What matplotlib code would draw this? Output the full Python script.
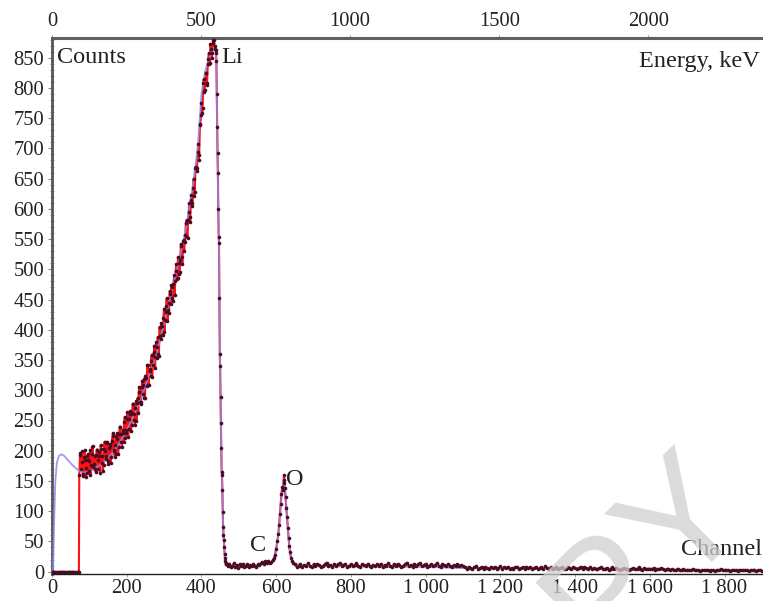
import matplotlib
matplotlib.use('Agg')
import matplotlib.pyplot as plt
import numpy as np

# measured spectrum, split into pieces with their own channel steps
zero_start, zero_step = 0, 3
zero_counts = [0] * 25

# rising Li edge, two interleaved runs of channels (73, 76, ... and 75, 78, ...)
rise_start, rise_step = 73, 3
rise_counts = [
    160, 196, 182, 158, 189, 201, 172, 164, 195, 183,
    160, 194, 208, 178, 170, 193, 202, 169, 191, 209,
    180, 167, 203, 199, 191, 215, 183, 208, 180, 216,
    229, 200, 210, 195, 229, 206, 240, 227, 206, 235,
    248, 221, 235, 264, 236, 260, 232, 262, 278, 250,
    270, 249, 287, 297, 281, 278, 315, 308, 287, 324,
    307, 342, 309, 335, 348, 322, 358, 374, 355, 354,
    388, 356, 390, 411, 391, 420, 396, 429, 452, 432,
    427, 459, 474, 452, 475, 457, 498, 484, 520, 492,
    515, 538, 508, 548, 545, 576, 554, 581, 609, 578,
    614, 609, 650, 628, 670, 667, 707, 689, 739, 775,
    767, 814, 796, 825, 808, 848, 840, 873, 849, 875,
    880, 864, 858,
]
rise2_start, rise2_step = 75, 3
rise2_counts = [
    193, 169, 199, 162, 185, 157, 192, 184, 167, 201,
    176, 207, 173, 192, 165, 202, 184, 198, 164, 203,
    192, 177, 215, 186, 213, 178, 204, 211, 190, 224,
    202, 190, 225, 220, 194, 227, 239, 214, 229, 214,
    256, 230, 252, 223, 253, 266, 242, 278, 261, 243,
    282, 279, 263, 305, 280, 306, 293, 319, 288, 321,
    342, 309, 332, 324, 359, 341, 363, 336, 379, 372,
    360, 405, 384, 406, 391, 435, 417, 439, 415, 445,
    464, 442, 470, 447, 490, 481, 508, 486, 510, 495,
    542, 520, 547, 531, 556, 581, 552, 595, 587, 623,
    605, 634, 622, 668, 663, 694, 681, 741, 755, 759,
    808, 794, 824, 804, 840, 858, 841, 864, 858, 880,
    869, 862,
]

edge_start, edge_step = 440, 1
edge_counts = [
    845, 790, 735, 692, 659, 600, 553, 543, 452, 360,
    340, 289, 246, 204, 165, 160, 135, 99, 74, 61,
    53, 41, 30, 22, 17, 14, 12,
]

base_start, base_step = 467, 4
base_counts = [
    12, 9, 13, 7, 10, 14, 8, 11, 6, 12,
    9, 13, 8, 10, 12, 7, 11, 9, 13, 10,
    8, 12, 11, 14, 16, 13, 17, 15, 18, 14,
    16, 19,
]

oxygen_ch = [594, 597, 600, 603, 606, 608, 610, 612, 614, 616, 618, 620, 621,
             622, 623, 625, 627, 629, 631, 633, 635, 637, 640, 643, 646]
oxygen_counts = [22, 28, 38, 50, 63, 78, 95, 112, 128, 140, 135, 152, 160,
                 146, 138, 124, 105, 90, 72, 56, 42, 32, 23, 17, 14]

tail_start, tail_step = 650, 5
tail_counts = [
    12, 8, 10, 13, 7, 11, 9, 14, 10, 8, 12, 9, 13, 11, 7, 10, 12, 15, 9, 11,
    8, 13, 10, 12, 14, 9, 11, 13, 8, 10, 12, 9, 11, 14, 10, 8, 12, 11, 9, 13,
    10, 8, 11, 9, 12, 10, 13, 7, 11, 9, 14, 10, 8, 12, 9, 13, 11, 7, 10, 12,
    15, 9, 11, 8, 13, 10, 12, 14, 9, 11, 13, 8, 10, 12, 9, 11, 14, 10, 8, 12,
    11, 9, 13, 10, 8, 11, 9, 12, 10, 11, 9,
    7, 5, 8, 6, 4, 7, 9, 5, 6, 8, 4, 7, 6, 5, 8, 6, 7, 4, 6, 9,
    5, 7, 6, 8, 5, 6, 4, 7, 8, 5, 6, 7, 5, 8, 6, 7, 5, 6, 8, 4,
    6, 7, 5, 9, 6, 5, 7, 4, 6, 8, 5, 6, 7, 5, 4, 8, 6, 5, 7, 6,
    4, 6, 8, 5, 7, 6, 5, 7, 4, 6,
    5, 4, 6, 7, 4, 5, 6, 3, 5, 7, 4, 6, 5, 3, 5, 6, 4, 5, 3, 4,
    6, 5, 4, 7, 5, 3, 6, 4, 5, 5, 4, 6, 3, 5, 4, 6, 5, 3, 4, 5,
    3, 4, 2, 3, 5, 2, 3, 4, 2, 3, 3, 2, 4, 3, 2, 3, 1, 3, 2, 2,
    3, 1, 2, 2, 1, 3, 2, 4, 2, 3, 2, 3, 1, 2, 3, 2, 1, 3, 2, 2,
    3, 2, 1, 2, 2, 3, 1, 2, 2, 1,
]

# simulated spectrum
sim_ch = [0, 3, 6, 9, 13, 18, 25, 32, 42, 55, 70, 85, 100, 120, 140, 160,
          180, 200, 220, 240, 260, 280, 300, 320, 340, 360, 375, 390, 400,
          410, 420, 432, 436, 439, 441, 443, 445, 447, 449, 451, 453, 455,
          457, 459, 461, 463, 466, 472, 550, 565, 580, 592, 600, 608, 614,
          620, 624, 628, 633, 638, 645, 700, 1000, 1100, 1400, 1600, 1903]
sim_counts = [0, 8, 90, 150, 180, 191, 194, 192, 185, 176, 168, 164, 165,
              172, 182, 195, 212, 234, 260, 290, 325, 360, 410, 462, 515,
              572, 630, 700, 790, 828, 848, 866, 866, 855, 790, 692, 600,
              545, 400, 290, 205, 160, 100, 62, 42, 22, 12, 9, 9, 13, 15,
              17, 35, 72, 120, 147, 140, 102, 55, 26, 13, 9, 8, 6, 5, 3, 1]

count_ticks = list(range(0, 851, 50))
channel_ticks = [0, 200, 400, 600, 800, 1000, 1200, 1400, 1600, 1800]
channel_labels = ['0', '200', '400', '600', '800', '1 000', '1 200', '1 400',
                  '1 600', '1 800']
energy_ticks = [0, 500, 1000, 1500, 2000]
kev_per_channel = 1.253

plt.rcParams['font.family'] = ['Liberation Serif', 'DejaVu Serif']

def piece(start, step, counts):
    return start + step * np.arange(len(counts)), np.array(counts)

parts = [piece(zero_start, zero_step, zero_counts),
         piece(rise_start, rise_step, rise_counts),
         piece(rise2_start, rise2_step, rise2_counts),
         piece(edge_start, edge_step, edge_counts),
         piece(base_start, base_step, base_counts),
         (np.array(oxygen_ch), np.array(oxygen_counts)),
         piece(tail_start, tail_step, tail_counts)]
exp_ch = np.concatenate([p[0] for p in parts])
exp_counts = np.concatenate([p[1] for p in parts])
order = np.argsort(exp_ch, kind='stable')
exp_ch, exp_counts = exp_ch[order], exp_counts[order]

fig = plt.figure(figsize=(7.63, 6.01), dpi=100)
ax = fig.add_axes([0.06815, 0.04476, 0.93185, 0.8925])
ax.set_xlim(0, 1903)
ax.set_ylim(-4, 883)

# red trace starts at the last empty channel so the jump shows as a thin red line
first = len(zero_counts) - 1
ax.plot(exp_ch[first:], exp_counts[first:], color='#ff1212', lw=1.5, zorder=2)
ax.plot(sim_ch, sim_counts, color='#8a8af0', lw=1.3, alpha=0.85, zorder=3)
ax.plot(exp_ch, exp_counts, ls='none', marker='o', ms=2.6, mew=0,
        color='#4a0c22', zorder=4)

ax.spines['right'].set_visible(False)
ax.spines['left'].set_color('#555555')
ax.spines['left'].set_linewidth(2.0)
ax.spines['top'].set_color('#606060')
ax.spines['top'].set_linewidth(2.2)
ax.spines['bottom'].set_color('#222222')
ax.spines['bottom'].set_linewidth(1.0)

ax.set_yticks(count_ticks)
ax.set_yticks(range(0, 881, 10), minor=True)
ax.tick_params(axis='y', which='major', direction='out', length=3, width=0.8,
               color='#888888', pad=2.5, labelsize=14.8, labelcolor='#222222')
ax.tick_params(axis='y', which='minor', direction='inout', length=2.5,
               width=0.6, color='#888888')
ax.set_xticks(channel_ticks, labels=channel_labels)
ax.tick_params(axis='x', which='major', direction='out', length=2.5,
               width=0.6, color='#999999', pad=1.0, labelsize=14.8,
               labelcolor='#222222')

top = ax.secondary_xaxis('top', functions=(lambda c: c * kev_per_channel,
                                           lambda e: e / kev_per_channel))
top.set_xticks(energy_ticks)
top.tick_params(direction='out', length=2.5, width=0.8, color='#999999',
                pad=2, labelsize=14.8, labelcolor='#222222')
top.spines['top'].set_visible(False)

ax.text(0.007, 0.963, 'Counts', transform=ax.transAxes, fontsize=17.5,
        ha='left', va='center', color='#222222')
ax.text(0.9958, 0.955, 'Energy, keV', transform=ax.transAxes, fontsize=17.5,
        ha='right', va='center', color='#222222')
ax.text(0.9986, 0.045, 'Channel', transform=ax.transAxes, fontsize=17.5,
        ha='right', va='center', color='#222222')
ax.text(454, 850, 'Li', fontsize=17.5, ha='left', va='center', color='#222222')
ax.text(551, 44, 'C', fontsize=17.5, ha='center', va='center', color='#222222')
ax.text(649, 152, 'O', fontsize=17.5, ha='center', va='center', color='#222222')

# light diagonal stamp across the lower right corner
fig.text(0.74, -0.07, 'COPY', rotation=45, fontsize=115, color='#cfcfcf',
         family='Liberation Sans', ha='center', va='center', alpha=0.75,
         zorder=10)

fig.savefig('out.png', dpi=100, facecolor='white')
